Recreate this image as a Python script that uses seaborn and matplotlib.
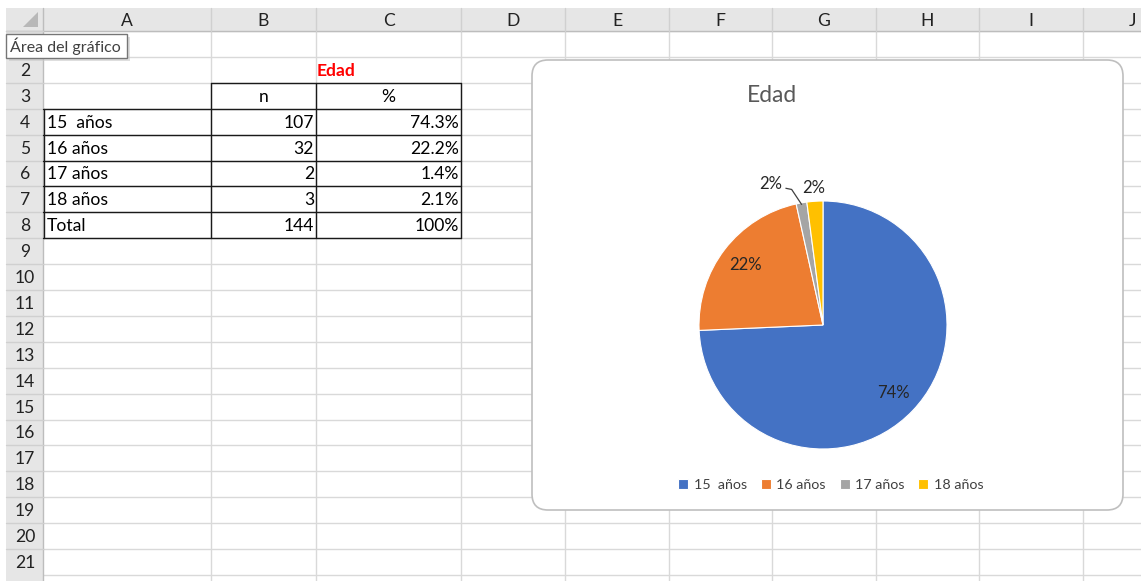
import matplotlib
matplotlib.use("Agg")
import matplotlib.pyplot as plt
from matplotlib.patches import Rectangle, FancyBboxPatch, Polygon
import numpy as np
import seaborn as sns

# data
categorias = ["15  años", "16 años", "17 años", "18 años"]
n_valores = [107, 32, 2, 3]
pct_tabla = ["74.3%", "22.2%", "1.4%", "2.1%"]
total_n = 144
total_pct = "100%"
etiquetas_pie = ["74%", "22%", "2%", "2%"]
colores = ["#4472C4", "#ED7D31", "#A5A5A5", "#FFC000"]
columnas = ["A", "B", "C", "D", "E", "F", "G", "H", "I", "J"]
titulo = "Edad"

sns.set_theme(style="white")
plt.rcParams["font.family"] = ["Lato", "DejaVu Sans"]

W, H = 1141, 581
fig = plt.figure(figsize=(W / 100, H / 100), dpi=100)
fig.patch.set_facecolor("white")
ax = fig.add_axes([0, 0, 1, 1])
ax.set_xlim(0, W)
ax.set_ylim(H, 0)
ax.axis("off")

# sheet geometry (pixels)
col_edges = [43, 211, 316, 461, 565, 669, 772, 876, 979, 1083, 1186]
head_top, head_bot = 8, 31
row_h = 25.9
n_rows = 21
row_top = lambda r: head_bot + (r - 1) * row_h
grid_c = "#D9D9D9"
head_bg = "#E6E6E6"
head_line = "#BDBDBD"
fs = 12.6

# grid lines
for x in col_edges[1:]:
    ax.plot([x, x], [head_bot, H], color=grid_c, lw=1, zorder=1)
for r in range(1, n_rows + 2):
    y = row_top(r)
    ax.plot([col_edges[0], W], [y, y], color=grid_c, lw=1, zorder=1)

# headers
ax.add_patch(Rectangle((6, head_top), W - 6, head_bot - head_top, fc=head_bg, ec="none", zorder=2))
ax.add_patch(Rectangle((6, head_bot), col_edges[0] - 6, H - head_bot, fc=head_bg, ec="none", zorder=2))
ax.plot([6, W], [head_bot, head_bot], color=head_line, lw=1, zorder=3)
ax.plot([col_edges[0], col_edges[0]], [head_top, H], color=head_line, lw=1, zorder=3)
for x in col_edges[1:]:
    ax.plot([x, x], [head_top, head_bot], color="#D0D0D0", lw=1, zorder=3)
for r in range(1, n_rows + 1):
    y = row_top(r)
    ax.plot([6, col_edges[0]], [y, y], color="#D0D0D0", lw=1, zorder=3)
ax.add_patch(Polygon([[38, 12], [38, 27], [23, 27]], closed=True, fc="#B8B8B8", ec="none", zorder=3))

for i, c in enumerate(columnas):
    xc = (col_edges[i] + col_edges[i + 1]) / 2
    if c == "J":
        xc = 1133
    ax.text(xc, (head_top + head_bot) / 2 + 1, c, ha="center", va="center", fontsize=fs, color="#222222", zorder=4)
for r in range(2, n_rows + 1):
    ax.text(25, row_top(r) + row_h / 2 + 1, str(r), ha="center", va="center", fontsize=fs, color="#222222", zorder=4)

# table content
def cy(r):
    return row_top(r) + row_h / 2 + 1

ax.text((col_edges[1] + col_edges[3]) / 2, cy(2), titulo, ha="center", va="center", fontsize=fs,
        color="#FF0000", fontweight="bold", zorder=4)
ax.text((col_edges[1] + col_edges[2]) / 2, cy(3), "n", ha="center", va="center", fontsize=fs, color="black", zorder=4)
ax.text((col_edges[2] + col_edges[3]) / 2, cy(3), "%", ha="center", va="center", fontsize=fs, color="black", zorder=4)
filas = list(zip(categorias, n_valores, pct_tabla)) + [("Total", total_n, total_pct)]
for k, (cat, nv, pv) in enumerate(filas):
    r = 4 + k
    ax.text(col_edges[0] + 4, cy(r), cat, ha="left", va="center", fontsize=fs, color="black", zorder=4)
    ax.text(col_edges[2] - 2, cy(r), str(nv), ha="right", va="center", fontsize=fs, color="black", zorder=4)
    ax.text(col_edges[3] - 2, cy(r), pv, ha="right", va="center", fontsize=fs, color="black", zorder=4)

# borders
bc = "#1A1A1A"
ax.plot([col_edges[1], col_edges[3]], [row_top(3), row_top(3)], color=bc, lw=1, zorder=5)
for r in range(4, 10):
    ax.plot([col_edges[0], col_edges[3]], [row_top(r), row_top(r)], color=bc, lw=1, zorder=5)
for x in col_edges[1:4]:
    ax.plot([x, x], [row_top(3), row_top(9)], color=bc, lw=1, zorder=5)
ax.plot([col_edges[0] + 1, col_edges[0] + 1], [row_top(4), row_top(9)], color=bc, lw=1, zorder=5)

# tooltip
ax.add_patch(Rectangle((9, 37), 121, 24, fc="#C8C8C8", ec="none", zorder=6, alpha=0.6))
ax.add_patch(Rectangle((6, 34), 121, 24, fc="white", ec="#767676", lw=1, zorder=7))
ax.text(10, 46.5, "Área del gráfico", ha="left", va="center", fontsize=11.5, color="#404040", zorder=8)

# chart area
ax.add_patch(FancyBboxPatch((532, 60), 591, 450, boxstyle="round,pad=0,rounding_size=16",
                            fc="white", ec="#BFBFBF", lw=1.2, zorder=9))
ax.text(772, 95, titulo, ha="center", va="center", fontsize=16.4, color="#595959", zorder=10)

# pie
cx, cyp, rad = 823, 325, 124
half = rad * 1.05
ax_pie = fig.add_axes([(cx - half) / W, (H - cyp - half) / H, 2 * half / W, 2 * half / H])
pal = sns.color_palette(colores)
wedges, _ = ax_pie.pie(n_valores, colors=pal, startangle=90, counterclock=False, radius=1,
                       wedgeprops=dict(edgecolor="white", linewidth=0.8))
ax_pie.set_xlim(-1.05, 1.05)
ax_pie.set_ylim(-1.05, 1.05)
ax_pie.axis("off")

lfs = 12
for w, lab in zip(wedges, etiquetas_pie):
    frac = (w.theta2 - w.theta1) / 360
    mid = np.deg2rad((w.theta1 + w.theta2) / 2)
    if frac > 0.1:
        r = 0.79
        ax_pie.text(r * np.cos(mid), r * np.sin(mid), lab, ha="center", va="center", fontsize=lfs, color="#262626")
    else:
        r = 1.11
        lx, ly = r * np.cos(mid), r * np.sin(mid)
        if w.get_facecolor()[:3] == pal[2]:
            tx, ty = lx - 0.23, ly + 0.04
            ax_pie.text(tx, ty, lab, ha="center", va="center", fontsize=lfs, color="#262626", clip_on=False)
            ex, ey = 0.985 * np.cos(mid), 0.985 * np.sin(mid)
            ax_pie.plot([tx + 0.12, tx + 0.17, ex], [ty - 0.03, ty - 0.04, ey], color="#404040", lw=0.9,
                        solid_capstyle="butt", clip_on=False)
        else:
            ax_pie.text(lx, ly, lab, ha="center", va="center", fontsize=lfs, color="#262626", clip_on=False)

leg = fig.legend(wedges, categorias, loc="center", bbox_to_anchor=(831 / W, 1 - 485 / H), ncol=4,
                 frameon=False, fontsize=10.3, handlelength=0.7, handleheight=0.7, handletextpad=0.4,
                 columnspacing=0.95, labelcolor="#404040")

fig.savefig("out.png", dpi=100, facecolor="white")
